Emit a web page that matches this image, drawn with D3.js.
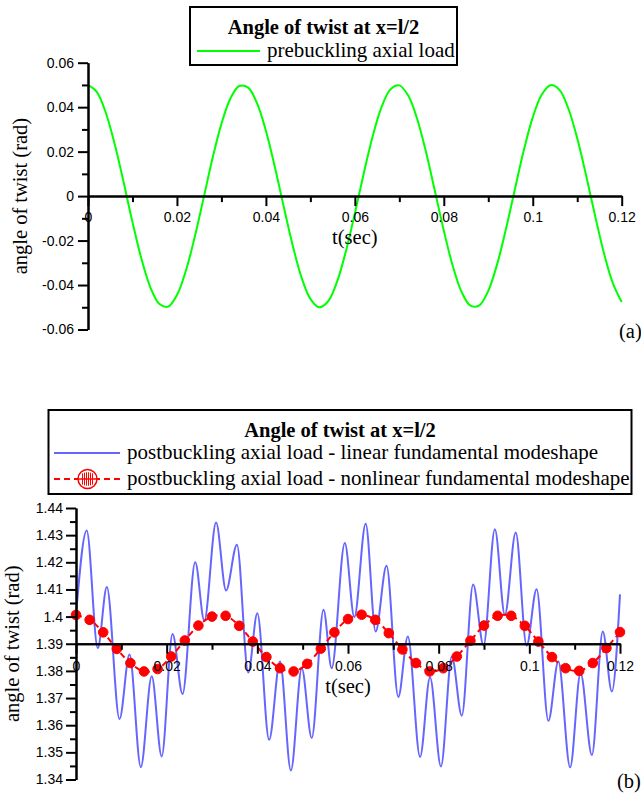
<!DOCTYPE html>
<html>
<head>
<meta charset="utf-8">
<script src="https://cdn.jsdelivr.net/npm/d3@7"></script>
<style>
  html, body { margin: 0; padding: 0; background: #fff; }
  svg { display: block; }
  .tick text { font-family: "Liberation Sans", Arial, sans-serif; font-size: 14px; fill: #000; }
</style>
</head>
<body>
<svg id="chart" width="641" height="795"></svg>
<script>
// ---------- (a) prebuckling axial load ----------
const preTime = [0, 0.002, 0.004, 0.006, 0.008, 0.010, 0.012, 0.014, 0.016, 0.018,
  0.020, 0.022, 0.024, 0.026, 0.028, 0.030, 0.032, 0.034, 0.036, 0.038,
  0.040, 0.042, 0.044, 0.046, 0.048, 0.050, 0.052, 0.054, 0.056, 0.058,
  0.060, 0.062, 0.064, 0.066, 0.068, 0.070, 0.072, 0.074, 0.076, 0.078,
  0.080, 0.082, 0.084, 0.086, 0.088, 0.090, 0.092, 0.094, 0.096, 0.098,
  0.100, 0.102, 0.104, 0.106, 0.108, 0.110, 0.112, 0.114, 0.116, 0.118, 0.120];
const preAngle = [0.0500, 0.0468, 0.0375, 0.0234, 0.0063, -0.0117, -0.0281, -0.0409, -0.0484, -0.0497,
  -0.0445, -0.0336, -0.0184, -0.0008, 0.0170, 0.0325, 0.0438, 0.0495, 0.0488, 0.0418,
  0.0294, 0.0132, -0.0047, -0.0220, -0.0365, -0.0462, -0.0500, -0.0473, -0.0385, -0.0247,
  -0.0078, 0.0102, 0.0268, 0.0400, 0.0480, 0.0498, 0.0452, 0.0348, 0.0198, 0.0023,
  -0.0155, -0.0313, -0.0431, -0.0493, -0.0491, -0.0426, -0.0306, -0.0146, 0.0032, 0.0207,
  0.0354, 0.0456, 0.0499, 0.0478, 0.0394, 0.0260, 0.0093, -0.0087, -0.0256, -0.0391, -0.0476];

// ---------- (b) postbuckling axial load ----------
// linear fundamental modeshape: turning points of the response
const linTime = [0, 0.00236, 0.0048, 0.0068, 0.0096, 0.0118, 0.0143, 0.0167, 0.0189, 0.0213,
  0.0235, 0.0263, 0.0283, 0.0309, 0.0331, 0.0355, 0.0380, 0.0400, 0.0426, 0.0450,
  0.0474, 0.0498, 0.0520, 0.0546, 0.0564, 0.0593, 0.0614, 0.0639, 0.0661, 0.0685,
  0.0711, 0.0732, 0.0759, 0.0781, 0.0805, 0.0829, 0.0851, 0.0876, 0.0899, 0.0924,
  0.0946, 0.0970, 0.0994, 0.1016, 0.1042, 0.1064, 0.1090, 0.1113, 0.1138, 0.1162,
  0.1182, 0.1200];
const linAngle = [1.4006, 1.4317, 1.3884, 1.4109, 1.3623, 1.3860, 1.3446, 1.3780, 1.3485, 1.3936,
  1.3715, 1.4200, 1.3985, 1.4347, 1.4096, 1.4265, 1.3794, 1.4012, 1.3546, 1.3835,
  1.3433, 1.3810, 1.3553, 1.4025, 1.3810, 1.4271, 1.3998, 1.4342, 1.3945, 1.4187,
  1.3704, 1.3927, 1.3483, 1.3777, 1.3448, 1.3853, 1.3635, 1.4118, 1.3894, 1.4322,
  1.4006, 1.4310, 1.3893, 1.4101, 1.3616, 1.3835, 1.3445, 1.3792, 1.3490, 1.3945,
  1.3724, 1.4082];

// nonlinear fundamental modeshape (marked samples)
const nonlinTime = [0, 0.003, 0.006, 0.009, 0.012, 0.015, 0.018, 0.021, 0.024, 0.027,
  0.030, 0.033, 0.036, 0.039, 0.042, 0.045, 0.048, 0.051, 0.054, 0.057,
  0.060, 0.063, 0.066, 0.069, 0.072, 0.075, 0.078, 0.081, 0.084, 0.087,
  0.090, 0.093, 0.096, 0.099, 0.102, 0.105, 0.108, 0.111, 0.114, 0.117, 0.120];
const nonlinAngle = [1.4006, 1.3988, 1.3942, 1.3881, 1.3829, 1.3798, 1.3807, 1.3853, 1.3912, 1.3967,
  1.4000, 1.4003, 1.3966, 1.3908, 1.3851, 1.3810, 1.3798, 1.3826, 1.3882, 1.3942,
  1.3991, 1.4007, 1.3988, 1.3939, 1.3879, 1.3829, 1.3798, 1.3810, 1.3853, 1.3911,
  1.3967, 1.4003, 1.4003, 1.3966, 1.3908, 1.3851, 1.3810, 1.3800, 1.3829, 1.3884, 1.3943];

// ---------- ticks ----------
const timeTicks = [0, 0.02, 0.04, 0.06, 0.08, 0.10, 0.12];
const timeTickLabels = ["0", "0.02", "0.04", "0.06", "0.08", "0.1", "0.12"];
const timeMinorTicks = [0.01, 0.03, 0.05, 0.07, 0.09, 0.11];
const preTicks = [-0.06, -0.04, -0.02, 0, 0.02, 0.04, 0.06];
const preTickLabels = ["-0.06", "-0.04", "-0.02", "0", "0.02", "0.04", "0.06"];
const preMinorTicks = [-0.05, -0.03, -0.01, 0.01, 0.03, 0.05];
const postTicks = [1.34, 1.35, 1.36, 1.37, 1.38, 1.39, 1.40, 1.41, 1.42, 1.43, 1.44];
const postTickLabels = ["1.34", "1.35", "1.36", "1.37", "1.38", "1.39", "1.4", "1.41", "1.42", "1.43", "1.44"];
const postMinorTicks = [1.345, 1.355, 1.365, 1.375, 1.385, 1.395, 1.405, 1.415, 1.425, 1.435];

const legendTitle = "Angle of twist at x=l/2";
const preLabel = "prebuckling axial load";
const linLabel = "postbuckling axial load - linear fundamental modeshape";
const nonlinLabel = "postbuckling axial load - nonlinear fundamental modeshape";

const GREEN = "#00ff00", BLUE = "#6666ff", RED = "#ff0000";
const SERIF = "'Liberation Serif', 'Times New Roman', serif";

const svg = d3.select("#chart");

function serifText(g, size) {
  return g.append("text").attr("font-family", SERIF).attr("font-size", size).attr("fill", "#000");
}

function drawAxes(g, x, y, xAxisValue, yTicks, yLabels, yMinor, yPad, xPad) {
  const yAxis = d3.axisLeft(y).tickValues(yTicks).tickSize(10).tickSizeOuter(0).tickPadding(yPad)
    .tickFormat((d, i) => yLabels[i]);
  const yMinorAxis = d3.axisLeft(y).tickValues(yMinor).tickSize(6).tickSizeOuter(0).tickFormat("");
  const xAxis = d3.axisBottom(x).tickValues(timeTicks).tickSize(10).tickSizeOuter(0).tickPadding(xPad)
    .tickFormat((d, i) => timeTickLabels[i]);
  const xMinorAxis = d3.axisBottom(x).tickValues(timeMinorTicks).tickSize(6).tickSizeOuter(0).tickFormat("");

  const x0 = x.range()[0];
  const yA = y(xAxisValue);
  [yMinorAxis, yAxis].forEach(a => g.append("g").attr("transform", `translate(${x0},0)`).call(a));
  [xMinorAxis, xAxis].forEach(a => g.append("g").attr("transform", `translate(0,${yA})`).call(a));
  g.selectAll(".domain, .tick line").attr("stroke", "#000").attr("stroke-width", 2);
}

// ===== chart (a) =====
const xA = d3.scaleLinear().domain([0, 0.12]).range([88, 621.7]);
const yA = d3.scaleLinear().domain([-0.06, 0.06]).range([329.5, 62.7]);
const gA = svg.append("g");

gA.append("path")
  .datum(preTime.map((t, i) => [t, preAngle[i]]))
  .attr("fill", "none").attr("stroke", GREEN).attr("stroke-width", 2)
  .attr("d", d3.line().x(d => xA(d[0])).y(d => yA(d[1])).curve(d3.curveCatmullRom));

drawAxes(gA, xA, yA, 0, preTicks, preTickLabels, preMinorTicks, 4, 6);

serifText(gA, 20.5).attr("text-anchor", "middle").attr("x", xA(0.06)).attr("y", 244).text("t(sec)");
serifText(gA, 20.5).attr("text-anchor", "middle")
  .attr("transform", `translate(27,${yA(0)}) rotate(-90)`).text("angle of twist (rad)");
serifText(gA, 20.5).attr("x", 619).attr("y", 338).text("(a)");

// legend (a)
const legA = gA.append("g");
legA.append("rect").attr("x", 190).attr("y", 7).attr("width", 267).attr("height", 58)
  .attr("fill", "#fff").attr("stroke", "#000").attr("stroke-width", 2);
serifText(legA, 20.5).attr("font-weight", "bold").attr("text-anchor", "middle")
  .attr("x", 323.5).attr("y", 34).text(legendTitle);
legA.append("line").attr("x1", 197).attr("x2", 260).attr("y1", 51).attr("y2", 51)
  .attr("stroke", GREEN).attr("stroke-width", 2);
serifText(legA, 21).attr("x", 267).attr("y", 57).text(preLabel);

// ===== chart (b) =====
const xB = d3.scaleLinear().domain([0, 0.12]).range([76, 620]);
const yB = d3.scaleLinear().domain([1.34, 1.44]).range([779.5, 508]);
const gB = svg.append("g");

gB.append("path")
  .datum(linTime.map((t, i) => [t, linAngle[i]]))
  .attr("fill", "none").attr("stroke", BLUE).attr("stroke-width", 2)
  .attr("d", d3.line().x(d => xB(d[0])).y(d => yB(d[1])).curve(d3.curveMonotoneX));

const nonlinPts = nonlinTime.map((t, i) => [t, nonlinAngle[i]]);
gB.append("path")
  .datum(nonlinPts)
  .attr("fill", "none").attr("stroke", RED).attr("stroke-width", 2).attr("stroke-dasharray", "6,4")
  .attr("d", d3.line().x(d => xB(d[0])).y(d => yB(d[1])).curve(d3.curveCatmullRom));
gB.append("g").selectAll("circle").data(nonlinPts).join("circle")
  .attr("cx", d => xB(d[0])).attr("cy", d => yB(d[1])).attr("r", 4.8)
  .attr("fill", RED).attr("stroke", RED).attr("stroke-width", 1);

drawAxes(gB, xB, yB, 1.39, postTicks, postTickLabels, postMinorTicks, 3, 7);

serifText(gB, 20.5).attr("text-anchor", "middle").attr("x", xB(0.06)).attr("y", 693).text("t(sec)");
serifText(gB, 20.5).attr("text-anchor", "middle")
  .attr("transform", `translate(19,${yB(1.39)}) rotate(-90)`).text("angle of twist (rad)");
serifText(gB, 20.5).attr("x", 617).attr("y", 788).text("(b)");

// legend (b)
const legB = gB.append("g");
legB.append("rect").attr("x", 48.5).attr("y", 410).attr("width", 583).attr("height", 84)
  .attr("fill", "#fff").attr("stroke", "#000").attr("stroke-width", 2);
serifText(legB, 20.5).attr("font-weight", "bold").attr("text-anchor", "middle")
  .attr("x", 340).attr("y", 437).text(legendTitle);
legB.append("line").attr("x1", 54).attr("x2", 120).attr("y1", 453).attr("y2", 453)
  .attr("stroke", BLUE).attr("stroke-width", 2);
serifText(legB, 21).attr("x", 127).attr("y", 459).text(linLabel);
legB.append("line").attr("x1", 54).attr("x2", 120).attr("y1", 479).attr("y2", 479)
  .attr("stroke", RED).attr("stroke-width", 2).attr("stroke-dasharray", "6,4");
// hatched marker symbol
const mk = legB.append("g").attr("transform", "translate(87.5,479)");
mk.append("circle").attr("r", 9.5).attr("fill", "#fff").attr("stroke", RED).attr("stroke-width", 1.5);
[-5, -3, -1, 1, 3, 5].forEach(dx => {
  const h = Math.sqrt(Math.max(0, 81 - dx * dx)) * 0.75;
  mk.append("line").attr("x1", dx).attr("x2", dx).attr("y1", -h).attr("y2", h)
    .attr("stroke", RED).attr("stroke-width", 1);
});
mk.append("line").attr("x1", -9.5).attr("x2", 9.5).attr("stroke", RED).attr("stroke-width", 1.5);
serifText(legB, 21).attr("x", 127).attr("y", 485).text(nonlinLabel);
</script>
</body>
</html>
